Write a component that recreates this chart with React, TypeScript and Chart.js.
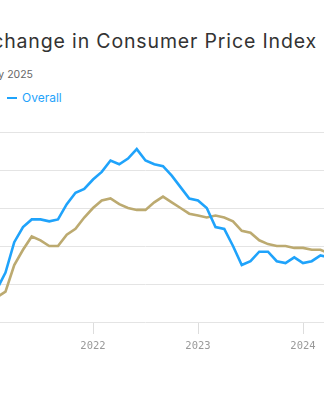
import React, { useEffect, useRef } from "react";
import { Chart, registerables } from "chart.js";

Chart.register(...registerables);

// Months since January 2020 (index 0 = Jan 2020 ... 60 = Jan 2025)
const months: string[] = [
  "2020-01","2020-02","2020-03","2020-04","2020-05","2020-06","2020-07","2020-08","2020-09","2020-10","2020-11","2020-12",
  "2021-01","2021-02","2021-03","2021-04","2021-05","2021-06","2021-07","2021-08","2021-09","2021-10","2021-11","2021-12",
  "2022-01","2022-02","2022-03","2022-04","2022-05","2022-06","2022-07","2022-08","2022-09","2022-10","2022-11","2022-12",
  "2023-01","2023-02","2023-03","2023-04","2023-05","2023-06","2023-07","2023-08","2023-09","2023-10","2023-11","2023-12",
  "2024-01","2024-02","2024-03","2024-04","2024-05","2024-06","2024-07","2024-08","2024-09","2024-10","2024-11","2024-12",
  "2025-01",
];

const overall: number[] = [
  2.5, 2.3, 1.5, 0.3, 0.1, 0.6, 1.0, 1.3, 1.4, 1.2, 1.2, 1.4,
  1.4, 1.7, 2.6, 4.2, 5.0, 5.4, 5.4, 5.3, 5.4, 6.2, 6.8, 7.0,
  7.5, 7.9, 8.5, 8.3, 8.6, 9.1, 8.5, 8.3, 8.2, 7.7, 7.1, 6.5,
  6.4, 6.0, 5.0, 4.9, 4.0, 3.0, 3.2, 3.7, 3.7, 3.2, 3.1, 3.4,
  3.1, 3.2, 3.5, 3.4, 3.3, 3.0, 2.9, 2.5, 2.4, 2.6, 2.7, 2.9,
  3.0,
];

const core: number[] = [
  2.3, 2.4, 2.1, 1.4, 1.2, 1.2, 1.6, 1.7, 1.7, 1.6, 1.6, 1.6,
  1.4, 1.3, 1.6, 3.0, 3.8, 4.5, 4.3, 4.0, 4.0, 4.6, 4.9, 5.5,
  6.0, 6.4, 6.5, 6.2, 6.0, 5.9, 5.9, 6.3, 6.6, 6.3, 6.0, 5.7,
  5.6, 5.5, 5.6, 5.5, 5.3, 4.8, 4.7, 4.3, 4.1, 4.0, 4.0, 3.9,
  3.9, 3.8, 3.8, 3.6, 3.4, 3.3, 3.2, 3.2, 3.3, 3.3, 3.3, 3.2,
  3.3,
];

const yearLabels: string[] = ["2020", "2021", "2022", "2023", "2024", "2025"];
const yTicks: number[] = [0, 2, 4, 6, 8, 10];

const BLUE = "#1fa3fb";
const TAN = "#bcaa70";
const FONT = "Inter, 'Open Sans', sans-serif";

export default function App() {
  const canvasRef = useRef<HTMLCanvasElement | null>(null);

  useEffect(() => {
    if (!canvasRef.current) return;
    const chart = new Chart(canvasRef.current, {
      type: "line",
      data: {
        datasets: [
          {
            label: "Overall",
            data: months.map((_, i) => ({ x: i, y: overall[i] })),
            borderColor: BLUE,
            borderWidth: 2.6,
            pointRadius: 0,
            tension: 0,
            order: 0,
          },
          {
            label: "Core",
            data: months.map((_, i) => ({ x: i, y: core[i] })),
            borderColor: TAN,
            borderWidth: 2.6,
            pointRadius: 0,
            tension: 0,
            order: 1,
          },
        ],
      },
      options: {
        animation: false,
        responsive: false,
        maintainAspectRatio: false,
        layout: { padding: { top: 32, right: 32, left: 0, bottom: 0 } },
        plugins: {
          legend: { display: false },
          title: { display: false },
          tooltip: { enabled: false },
        },
        scales: {
          x: {
            type: "linear",
            min: 0,
            max: months.length - 1,
            afterBuildTicks: (s: any) => {
              s.ticks = yearLabels.map((_, i) => ({ value: i * 12 }));
            },
            afterFit: (s: any) => {
              s.height = 48;
            },
            grid: {
              drawOnChartArea: false,
              drawTicks: true,
              tickLength: 12,
              color: "#dddddd",
              lineWidth: 1,
            },
            border: { display: false },
            ticks: {
              autoSkip: false,
              maxRotation: 0,
              padding: 6,
              color: "#999999",
              font: { family: "'DejaVu Sans Mono', monospace", size: 10.5 },
              callback: (v: any) => yearLabels[Math.round(Number(v) / 12)] ?? "",
            },
          },
          y: {
            min: 0,
            max: 10,
            afterBuildTicks: (s: any) => {
              s.ticks = yTicks.map((v) => ({ value: v }));
            },
            afterFit: (s: any) => {
              s.width = 43;
            },
            grid: { color: "#e4e4e4", lineWidth: 1, drawTicks: false },
            border: { display: false },
            ticks: {
              padding: 6,
              color: "#999999",
              font: { family: "'DejaVu Sans Mono', monospace", size: 10.5 },
              callback: (v: any) => `${v}%`,
            },
          },
        },
      },
    });
    return () => chart.destroy();
  }, []);

  return (
    <div
      style={{
        position: "fixed",
        left: 0,
        top: 0,
        width: 324,
        height: 400,
        overflow: "hidden",
        background: "#ffffff",
        fontFamily: FONT,
      }}
    >
      <div
        style={{
          position: "absolute",
          right: 7,
          top: 28,
          whiteSpace: "nowrap",
          fontSize: 19.5,
          lineHeight: "26px",
          color: "#333333",
          letterSpacing: 0.85,
        }}
      >
        Year-over-year change in Consumer Price Index
      </div>
      <div
        style={{
          position: "absolute",
          right: 291,
          top: 67,
          whiteSpace: "nowrap",
          fontSize: 10.5,
          lineHeight: "16px",
          color: "#666666",
        }}
      >
        January 2020 to January 2025
      </div>
      <div
        style={{
          position: "absolute",
          left: -80,
          top: 90,
          whiteSpace: "nowrap",
          fontSize: 12,
          lineHeight: "16px",
          display: "flex",
          alignItems: "center",
        }}
      >
        <span style={{ display: "inline-block", width: 10, height: 2.5, background: TAN, marginRight: 5 }} />
        <span style={{ color: TAN, marginRight: 12 }}>Core</span>
      </div>
      <div
        style={{
          position: "absolute",
          left: 7,
          top: 90,
          whiteSpace: "nowrap",
          fontSize: 12,
          lineHeight: "16px",
          display: "flex",
          alignItems: "center",
        }}
      >
        <span style={{ display: "inline-block", width: 10, height: 2.5, background: BLUE, marginRight: 5 }} />
        <span style={{ color: BLUE }}>Overall</span>
      </div>
      <div style={{ position: "absolute", left: -160, top: 100, width: 600, height: 270 }}>
        <canvas ref={canvasRef} width={600} height={270} style={{ width: 600, height: 270 }} />
      </div>
    </div>
  );
}
